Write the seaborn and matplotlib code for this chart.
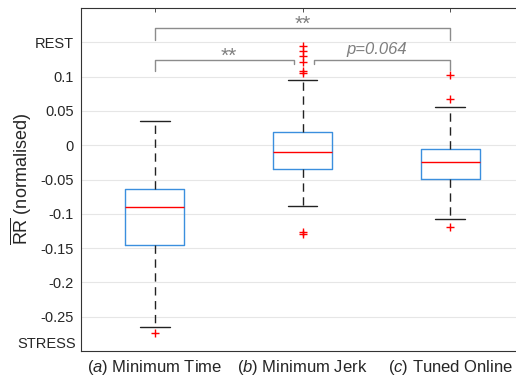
import pandas as pd
import matplotlib
matplotlib.use('Agg')
import matplotlib.pyplot as plt
import matplotlib.transforms as mtransforms
import seaborn as sns

# values (normalised mean RR per condition)
min_time = [-0.274, -0.265, -0.220, -0.190, -0.160, -0.145, -0.130, -0.118, -0.106, -0.097,
            -0.090, -0.085, -0.079, -0.073, -0.068, -0.064, -0.050, -0.030, -0.010, 0.015, 0.035]
min_jerk = [-0.130, -0.127, -0.089, -0.072, -0.060, -0.050, -0.043, -0.038, -0.034, -0.031,
            -0.028, -0.025, -0.022, -0.019, -0.016, -0.013, -0.010, -0.007, -0.003, 0.000,
            0.004, 0.008, 0.012, 0.016, 0.019, 0.040, 0.095, 0.105, 0.108, 0.122,
            0.130, 0.138, 0.145]
tuned_online = [-0.119, -0.107, -0.085, -0.068, -0.056, -0.049, -0.044, -0.039, -0.034, -0.029,
                -0.024, -0.020, -0.016, -0.012, -0.008, -0.005, 0.005, 0.020, 0.055, 0.067, 0.102]

groups = ['Minimum Time', 'Minimum Jerk', 'Tuned Online']
group_tags = ['(a)', '(b)', '(c)']
ytick_vals = [0.15, 0.1, 0.05, 0, -0.05, -0.1, -0.15, -0.2, -0.25]
ytick_labels = ['REST', '0.1', '0.05', '0', '-0.05', '-0.1', '-0.15', '-0.2', '-0.25']

df = pd.DataFrame({
    'group': [groups[0]] * len(min_time) + [groups[1]] * len(min_jerk) + [groups[2]] * len(tuned_online),
    'value': min_time + min_jerk + tuned_online,
})

sns.set_style('white')
plt.rcParams['font.family'] = ['Liberation Sans', 'DejaVu Sans']
plt.rcParams['mathtext.fontset'] = 'custom'
plt.rcParams['mathtext.rm'] = 'Liberation Sans'
plt.rcParams['mathtext.it'] = 'Liberation Sans:italic'

fig = plt.figure(figsize=(5.16, 3.81), dpi=100)
ax = fig.add_axes([81 / 516, 30 / 381, 443 / 516, 343 / 381])

blue = '#3b8fde'
sns.boxplot(data=df, x='group', y='value', order=groups, width=0.4, whis=1.5, ax=ax,
            fill=False, linewidth=1,
            boxprops=dict(color=blue),
            medianprops=dict(color='red', linewidth=1),
            whiskerprops=dict(color='#222222', linestyle=(0, (6, 4)), linewidth=1),
            capprops=dict(color='#222222', linewidth=1),
            flierprops=dict(marker='+', markeredgecolor='red', markersize=6, markeredgewidth=1))

ax.set_xlim(-0.5, 2.5)
ax.set_ylim(-0.3, 0.2)
ax.set_yticks(ytick_vals)
ax.set_yticklabels(ytick_labels)
ax.set_xticks([0, 1, 2])
ax.set_xticklabels([r'$\mathit{' + t + '}$' + ' ' + g for t, g in zip(group_tags, groups)], fontsize=12)
ax.tick_params(axis='y', labelsize=10.5)
ax.tick_params(direction='in', length=3, width=0.6, top=True, right=True, color='#333333', pad=5)
ax.set_xlabel('')
ax.set_ylabel(r'$\overline{\mathrm{RR}}$ (normalised)', fontsize=13, labelpad=1)
ax.yaxis.grid(True, color='#e6e6e6', linewidth=0.8)
ax.set_axisbelow(True)
for s in ax.spines.values():
    s.set_color('#333333')
    s.set_linewidth(0.8)

# STRESS label under the last tick
trans = mtransforms.blended_transform_factory(ax.transAxes, ax.transData)
ax.text(-0.012, -0.29, 'STRESS', transform=trans, ha='right', va='center', fontsize=10.5)

# significance brackets
gray = '#8c8c8c'
ax.plot([0, 0, 2, 2], [0.153, 0.171, 0.171, 0.153], color=gray, lw=1)
ax.plot([0, 0, 0.94, 0.94], [0.108, 0.124, 0.124, 0.119], color=gray, lw=1)
ax.plot([1.075, 1.075, 2, 2], [0.119, 0.124, 0.124, 0.109], color=gray, lw=1)
ax.text(1, 0.168, '**', color='#7f7f7f', ha='center', va='baseline', fontsize=15)
ax.text(0.5, 0.121, '**', color='#7f7f7f', ha='center', va='baseline', fontsize=15)
ax.text(1.5, 0.139, 'p=0.064', color='#7f7f7f', ha='center', va='center', fontsize=12, style='italic')

fig.savefig('out.png', dpi=100)
